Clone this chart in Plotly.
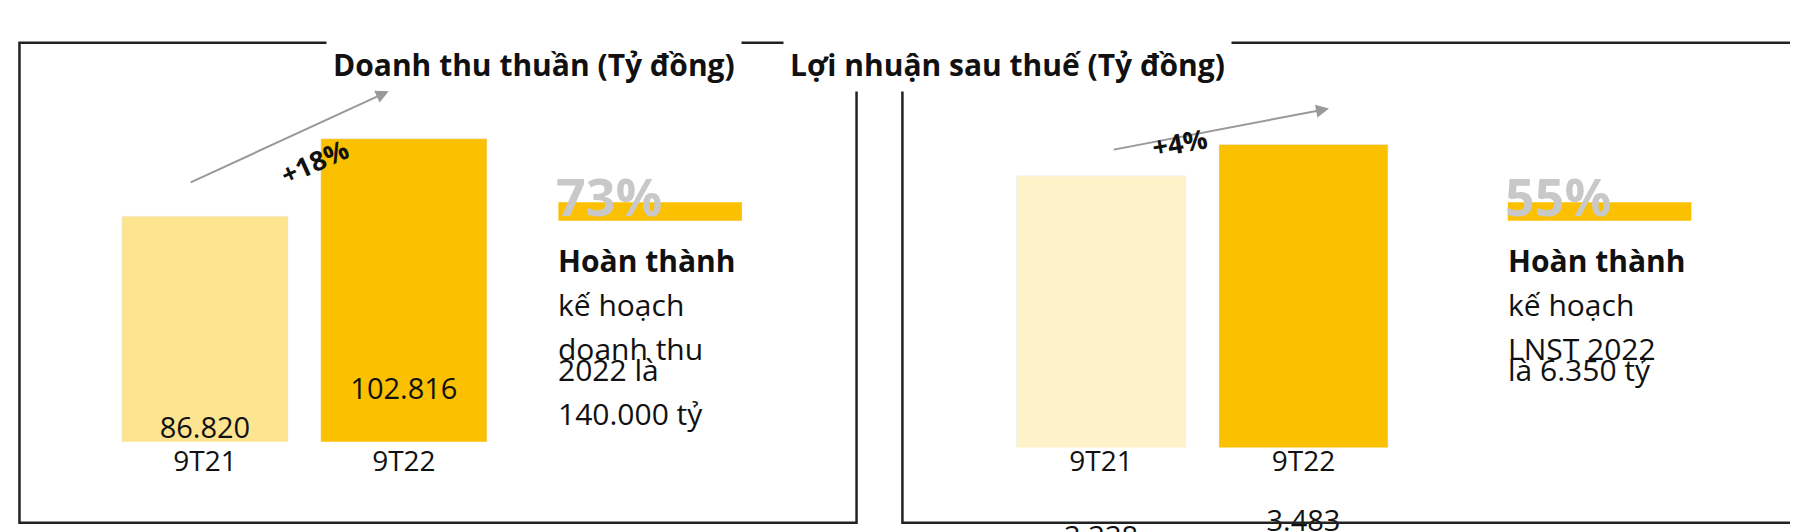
import plotly.graph_objects as go

# ---- data ----
periods = ["9T21", "9T22"]
revenue = [86820, 102816]
revenue_text = ["86.820", "102.816"]
profit = [3338, 3483]
profit_text = ["3.338", "3.483"]
titles = ["Doanh thu thuần (Tỷ đồng)", "Lợi nhuận sau thuế (Tỷ đồng)"]
growth = ["+18%", "+4%"]
completion = ["73%", "55%"]
notes = [["kế hoạch", "doanh thu", "2022 là", "140.000 tỷ"],
         ["kế hoạch", "LNST 2022", "là 6.350 tỷ"]]

W, H = 1568.0, 460.0
S = 1798 / W
def px(x): return x / W
def py(y): return 1 - y / H

FONT = "Open Sans"
fig = go.Figure()
fig.add_bar(x=periods, y=revenue, text=revenue_text, textposition="inside",
            insidetextanchor="middle", marker_color=["#FDE491", "#FBC000"],
            textfont=dict(size=29, color="#111", family=FONT), xaxis="x", yaxis="y",
            cliponaxis=False)
fig.add_bar(x=periods, y=profit, text=profit_text, textposition="inside",
            insidetextanchor="middle", marker_color=["#FEF2C9", "#FBC000"],
            textfont=dict(size=29, color="#111", family=FONT), xaxis="x2", yaxis="y2",
            cliponaxis=False)

ax = dict(showgrid=False, zeroline=False, showline=False, ticks="",
          tickfont=dict(size=28, color="#111", family=FONT))
fig.update_layout(
    width=1798, height=532, margin=dict(l=0, r=0, t=0, b=0),
    paper_bgcolor="white", plot_bgcolor="white", showlegend=False,
    bargap=0.165, uniformtext=dict(mode="show", minsize=10),
    xaxis=dict(domain=[px(85), px(432)], **ax),
    xaxis2=dict(domain=[px(865), px(1218)], **ax),
    yaxis=dict(domain=[py(375), py(60)], range=[40270, 115467], visible=False),
    yaxis2=dict(domain=[py(380), py(60)], range=[2076, 3795], visible=False, anchor="x2"),
)

shapes = []
anns = []
for (x0, x1, tx, title) in [(10, 740, 277, titles[0]), (780, 1560, 1067, titles[1])]:
    shapes.append(dict(type="rect", xref="paper", yref="paper", x0=px(x0), x1=px(x1),
                       y0=py(445), y1=py(30), line=dict(color="#222", width=2.5)))
    anns.append(dict(text="<b>" + title + "</b>", x=px(tx), y=py(25), xref="paper", yref="paper",
                     showarrow=False, bgcolor="white", borderpad=6,
                     font=dict(size=30, color="#111", family=FONT)))

# growth arrows
for (ax0, ay0, ax1, ay1, lx, ly, ang, g) in [(158, 152, 332, 72, 230, 103, -24, growth[0]),
                                             (963, 123, 1152, 87, 1050, 94, -10, growth[1])]:
    anns.append(dict(x=px(ax1), y=py(ay1), ax=(ax0 - ax1) * S, ay=(ay0 - ay1) * S,
                     xref="paper", yref="paper", axref="pixel", ayref="pixel",
                     showarrow=True, arrowhead=2, arrowsize=1.3,
                     arrowwidth=2, arrowcolor="#999", text=""))
    anns.append(dict(text="<b>" + g + "</b>", x=px(lx), y=py(ly), xref="paper", yref="paper",
                     showarrow=False, textangle=ang, font=dict(size=27, color="#111", family=FONT)))

# completion blocks
for (x0, pct, lines) in [(480, completion[0], notes[0]), (1308, completion[1], notes[1])]:
    anns.append(dict(text="<b>" + pct + "</b>", x=px(x0 - 4), y=py(130), xref="paper", yref="paper",
                     xanchor="left", showarrow=False, font=dict(size=52, color="#C8C8C8", family=FONT)))
    shapes.append(dict(type="rect", xref="paper", yref="paper", x0=px(x0), x1=px(x0 + 160),
                       y0=py(184), y1=py(168), fillcolor="#FBC000", line=dict(width=0)))
    anns.append(dict(text="<b>Hoàn thành</b>", x=px(x0 - 2), y=py(218), xref="paper", yref="paper",
                     xanchor="left", showarrow=False, font=dict(size=30, color="#111", family=FONT)))
    for i, ln in enumerate(lines):
        anns.append(dict(text=ln, x=px(x0 - 2), y=py(256 + 38 * i), xref="paper", yref="paper",
                         xanchor="left", showarrow=False, font=dict(size=30, color="#111", family=FONT)))

fig.update_layout(shapes=shapes, annotations=anns)
fig.write_html("out.html")
